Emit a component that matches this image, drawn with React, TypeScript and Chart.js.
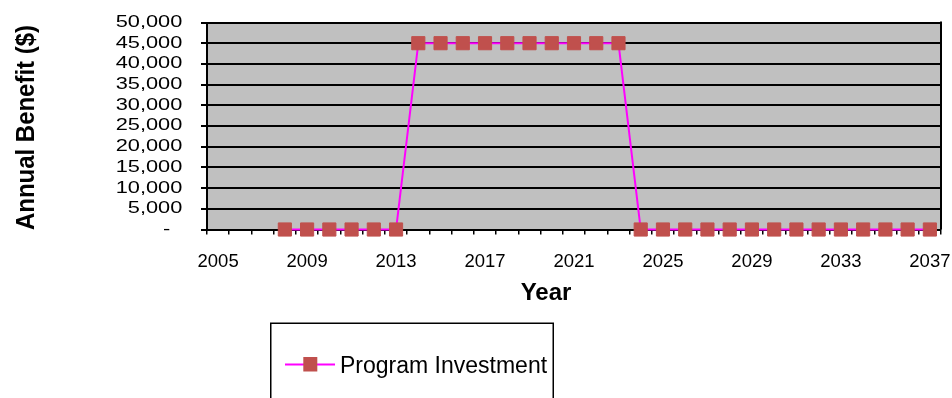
import React, { useEffect, useRef } from 'react';
import { Chart, registerables, LinearScale } from 'chart.js';

// ---- data ----
const years: string[] = [
  '2005', '2006', '2007', '2008', '2009', '2010', '2011', '2012', '2013', '2014', '2015',
  '2016', '2017', '2018', '2019', '2020', '2021', '2022', '2023', '2024', '2025', '2026',
  '2027', '2028', '2029', '2030', '2031', '2032', '2033', '2034', '2035', '2036', '2037',
];
const programInvestment: (number | null)[] = [
  null, null, null, 0, 0, 0, 0, 0, 0, 45000, 45000,
  45000, 45000, 45000, 45000, 45000, 45000, 45000, 45000, 0, 0, 0,
  0, 0, 0, 0, 0, 0, 0, 0, 0, 0, 0,
];
const xTickLabels: string[] = ['2005', '2009', '2013', '2017', '2021', '2025', '2029', '2033', '2037'];
const yTickValues: number[] = [0, 5000, 10000, 15000, 20000, 25000, 30000, 35000, 40000, 45000, 50000];
const yTickLabels: string[] = ['-  ', '5,000', '10,000', '15,000', '20,000', '25,000', '30,000', '35,000', '40,000', '45,000', '50,000'];
const seriesLabel = 'Program Investment';
const xTitle = 'Year';
const yTitle = 'Annual Benefit ($)';

const FONT = '"Liberation Sans", Arial, sans-serif';
const LINE_COLOR = '#FF00FF';
const MARKER_COLOR = '#C0504D';
const PLOT_BG = '#C0C0C0';
const Y_LABEL_STRETCH = 1.36;

class StretchedLinearScale extends LinearScale {
  static id = 'stretchedLinear';
  static defaults = { ...(LinearScale as any).defaults };
  drawLabels(chartArea: any) {
    const ctx = (this as any).ctx as CanvasRenderingContext2D;
    const opts: any = (this as any).options;
    const tl = opts.grid.display && opts.grid.drawTicks ? opts.grid.tickLength : 0;
    const anchor = (this as any).right - tl - opts.ticks.padding;
    ctx.save();
    ctx.translate(anchor, 0);
    ctx.scale(Y_LABEL_STRETCH, 1);
    ctx.translate(-anchor, 0);
    super.drawLabels(chartArea);
    ctx.restore();
  }
}

Chart.register(...registerables, StretchedLinearScale as any);

const decorPlugin = {
  id: 'decor',
  beforeDraw(chart: any) {
    const { ctx, chartArea: a } = chart;
    ctx.save();
    ctx.fillStyle = PLOT_BG;
    ctx.fillRect(a.left, a.top, a.right - a.left, a.bottom - a.top);
    ctx.restore();
  },
  beforeDatasetsDraw(chart: any) {
    const { ctx, chartArea: a } = chart;
    ctx.save();
    ctx.strokeStyle = '#000';
    ctx.lineWidth = 2;
    ctx.beginPath();
    ctx.moveTo(a.right, a.top - 1);
    ctx.lineTo(a.right, a.bottom);
    ctx.stroke();
    ctx.restore();
  },
  afterDraw(chart: any) {
    const { ctx } = chart;
    const ds = chart.data.datasets[0];
    ctx.save();
    ctx.fillStyle = '#000';
    // x title
    ctx.font = `bold 24px ${FONT}`;
    ctx.textAlign = 'center';
    ctx.textBaseline = 'alphabetic';
    ctx.fillText(xTitle, 546, 300);
    // y title
    ctx.font = `bold 26px ${FONT}`;
    const w = ctx.measureText(yTitle).width;
    ctx.save();
    ctx.translate(34, 127.5);
    ctx.rotate(-Math.PI / 2);
    ctx.scale(205 / w, 1);
    ctx.textAlign = 'center';
    ctx.fillText(yTitle, 0, 0);
    ctx.restore();
    // legend box
    ctx.strokeStyle = '#000';
    ctx.lineWidth = 1.5;
    ctx.strokeRect(270.75, 323.25, 282.5, 120);
    ctx.strokeStyle = ds.borderColor;
    ctx.lineWidth = 2;
    ctx.beginPath();
    ctx.moveTo(285, 364.5);
    ctx.lineTo(335, 364.5);
    ctx.stroke();
    ctx.fillStyle = ds.pointBackgroundColor;
    ctx.fillRect(303.3, 357, 14, 14.5);
    ctx.fillStyle = '#000';
    ctx.font = `23px ${FONT}`;
    ctx.textAlign = 'left';
    ctx.fillText(ds.label, 340, 373.3);
    ctx.restore();
  },
};

export default function App() {
  const canvasRef = useRef<HTMLCanvasElement | null>(null);

  useEffect(() => {
    if (!canvasRef.current) return;
    Chart.defaults.font.family = FONT;
    const chart = new Chart(canvasRef.current, {
      type: 'line',
      data: {
        labels: years,
        datasets: [
          {
            label: seriesLabel,
            data: programInvestment,
            borderColor: LINE_COLOR,
            borderWidth: 2,
            backgroundColor: MARKER_COLOR,
            pointBackgroundColor: MARKER_COLOR,
            pointBorderColor: MARKER_COLOR,
            pointBorderWidth: 1,
            pointStyle: 'rect',
            pointRadius: 9.3,
            tension: 0,
            fill: false,
            clip: false as any,
          },
        ],
      },
      options: {
        animation: false,
        responsive: false,
        events: [],
        layout: { padding: { left: 0, top: 22.5, right: 11, bottom: 0 } },
        plugins: {
          legend: { display: false },
          tooltip: { enabled: false },
        },
        scales: {
          x: {
            type: 'category',
            offset: true,
            grid: {
              offset: true,
              drawOnChartArea: false,
              drawTicks: true,
              tickLength: 5,
              color: '#000',
              lineWidth: 1.5,
            },
            border: { display: true, color: '#000', width: 2 },
            ticks: {
              autoSkip: false,
              maxRotation: 0,
              minRotation: 0,
              padding: 16,
              color: '#000',
              font: { family: FONT, size: 18.5 },
              callback: (_v: any, idx: number) => (xTickLabels.includes(years[idx]) ? years[idx] : ''),
            },
            afterFit: (s: any) => {
              s.height = 168.5;
              s.paddingLeft = 0;
              s.paddingRight = 0;
            },
          },
          y: {
            type: 'stretchedLinear' as any,
            min: 0,
            max: 50000,
            grid: { color: '#000', lineWidth: 2, tickLength: 6, drawTicks: true },
            border: { display: true, color: '#000', width: 2 },
            ticks: {
              stepSize: 5000,
              autoSkip: false,
              padding: 18.7,
              color: '#000',
              font: { family: FONT, size: 16 },
              callback: (v: any) => {
                const i = yTickValues.indexOf(Number(v));
                return i >= 0 ? yTickLabels[i] : '';
              },
            },
            afterFit: (s: any) => {
              s.width = 207;
              s.paddingTop = 0;
              s.paddingBottom = 0;
            },
          },
        } as any,
      },
      plugins: [decorPlugin],
    });
    return () => chart.destroy();
  }, []);

  return (
    <div style={{ position: 'absolute', left: 0, top: 0, width: 952, height: 398 }}>
      <canvas ref={canvasRef} width={952} height={398} style={{ display: 'block' }} />
    </div>
  );
}
